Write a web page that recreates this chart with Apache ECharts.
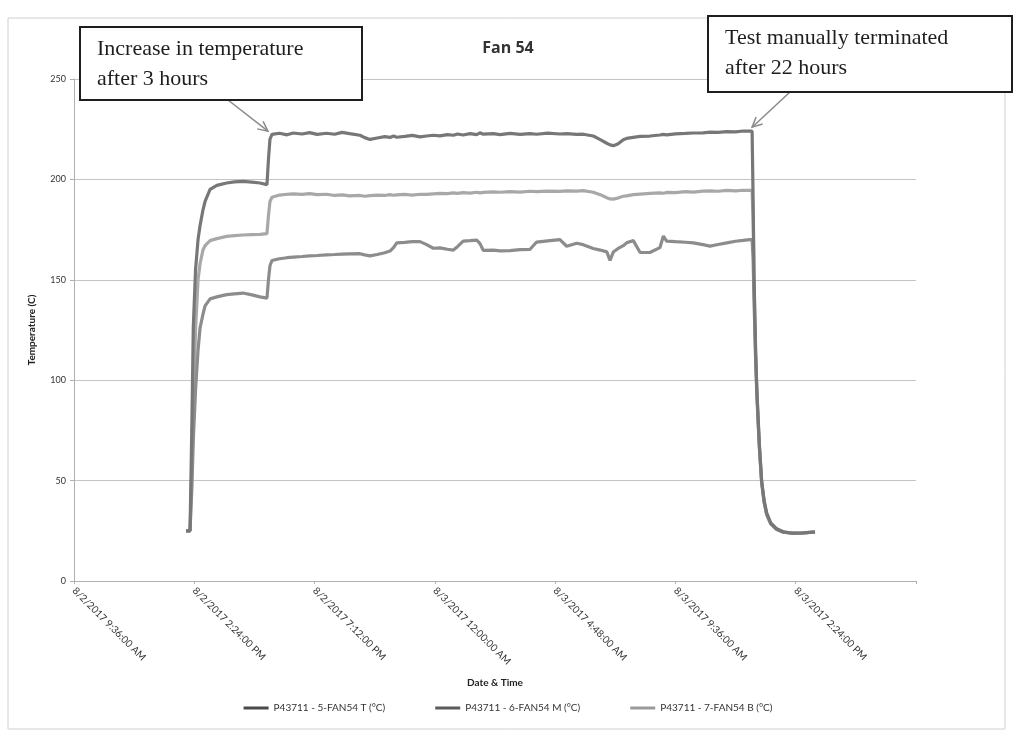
<!DOCTYPE html>
<html><head><meta charset="utf-8">
<script src="https://cdn.jsdelivr.net/npm/echarts@6/dist/echarts.min.js"></script>
<style>html,body{margin:0;padding:0;background:#fff}#c{width:1016px;height:734px}</style>
</head><body><div id="c"></div>
<script>
// ---- data (x = hours since 8/2/2017 00:00) ----
const chartTitle = 'Fan 54';
const yAxisTitle = 'Temperature (C)';
const xAxisTitle = 'Date & Time';
const seriesNames = ['P43711 - 5-FAN54 T (°C)', 'P43711 - 6-FAN54 M (°C)', 'P43711 - 7-FAN54 B (°C)'];
const xTickLabels = ['8/2/2017 9:36:00 AM', '8/2/2017 2:24:00 PM', '8/2/2017 7:12:00 PM',
  '8/3/2017 12:00:00 AM', '8/3/2017 4:48:00 AM', '8/3/2017 9:36:00 AM', '8/3/2017 2:24:00 PM'];
const yTicks = [0, 50, 100, 150, 200, 250];

const timeHours = [
  14.07, 14.23, 14.30, 14.36, 14.45, 14.55, 14.63, 14.75, 14.83, 15.03, 15.3, 15.69, 16.0, 16.34, 16.7, 17.02, 17.3, 17.36, 17.42,
  17.5, 17.8, 18.1, 18.35, 18.7, 19.0, 19.3, 19.68, 20.0, 20.3, 20.6, 21.01, 21.2, 21.41, 21.7, 22.0, 22.21, 22.35, 22.48, 22.8,
  23.1, 23.41, 23.67, 23.94, 24.2, 24.5, 24.74, 24.9, 25.13, 25.4, 25.67, 25.8, 25.93, 26.33, 26.6, 27.0, 27.4, 27.8, 28.06, 28.5,
  28.99, 29.26, 29.66, 29.92, 30.32, 30.6, 30.86, 30.99, 31.12, 31.3, 31.52, 31.65, 31.92, 32.19, 32.58, 32.98, 33.12, 33.25, 33.6,
  34.0, 34.31, 34.7, 34.98, 35.3, 35.65, 36.0, 36.3, 36.58,
  36.66, 36.70, 36.74, 36.80, 36.85, 36.95, 37.04, 37.14, 37.24, 37.4, 37.64, 37.9, 38.29, 38.7, 39.17
];
const tempT = [
  25, 25, 75, 126, 155, 170, 177, 185, 189, 195, 197, 198.2, 198.8, 199, 198.6, 198.2, 197.4, 210, 220,
  222.4, 223.0, 222.2, 223.1, 222.6, 223.3, 222.4, 223.0, 222.5, 223.4, 222.8, 222.0, 220.8, 219.9, 220.6, 221.3, 220.9, 221.6, 221.0, 221.4,
  221.9, 221.2, 221.6, 222.0, 221.7, 222.3, 222.0, 222.6, 222.1, 222.8, 222.3, 223.2, 222.5, 222.8, 222.3, 222.9, 222.4, 222.8, 222.5, 223.0,
  222.6, 222.8, 222.4, 222.5, 221.6, 219.8, 218.0, 217.2, 216.8, 217.6, 219.8, 220.4, 220.9, 221.4, 221.6, 222.1, 222.4, 222.2, 222.7,
  222.9, 223.1, 223.2, 223.5, 223.4, 223.8, 223.7, 224.1, 224.0,
  224, 190, 150, 115, 95, 68, 50, 40, 34, 29, 26, 24.5, 23.8, 24, 24.5
];
const tempM = [
  25, 25, 45, 70, 95, 115, 126, 133, 137, 140.5, 141.5, 142.6, 143, 143.4, 142.5, 141.5, 140.9, 150, 157,
  159.6, 160.5, 161.0, 161.3, 161.6, 161.9, 162.1, 162.4, 162.6, 162.8, 162.9, 163.0, 162.4, 161.9, 162.6, 163.5, 164.3, 166.0, 168.4, 168.6,
  169.0, 169.0, 167.5, 165.7, 165.9, 165.2, 164.8, 166.5, 169.3, 169.5, 169.8, 168.0, 164.7, 164.8, 164.4, 164.5, 165.0, 165.2, 168.8, 169.4,
  170.0, 166.7, 168.2, 167.5, 165.6, 164.8, 163.9, 159.7, 163.8, 165.5, 167.0, 168.4, 169.5, 163.6, 163.6, 166.0, 171.8, 169.3, 169.0,
  168.7, 168.4, 167.5, 166.8, 167.6, 168.4, 169.2, 169.6, 170.0,
  170, 160, 138, 110, 92, 66, 49, 39, 33, 28.5, 25.6, 24.3, 23.7, 23.9, 24.3
];
const tempB = [
  25, 25, 55, 85, 125, 150, 158, 165, 167, 169.5, 170.5, 171.6, 172, 172.3, 172.5, 172.6, 173, 182, 189,
  191.1, 192.2, 192.6, 192.8, 192.5, 192.9, 192.4, 192.6, 192.0, 192.3, 191.8, 192.0, 191.6, 191.9, 192.2, 192.0, 192.4, 192.1, 192.3, 192.5,
  192.2, 192.6, 192.5, 192.8, 193.0, 192.9, 193.3, 193.0, 193.4, 193.2, 193.6, 193.3, 193.5, 193.8, 193.6, 193.9, 193.7, 194.1, 193.9, 194.2,
  194.0, 194.3, 194.2, 194.4, 193.6, 192.4, 190.9, 190.3, 190.2, 190.7, 191.6, 191.8, 192.4, 192.7, 193.0, 193.3, 193.1, 193.5, 193.4,
  193.9, 193.7, 194.2, 194.3, 194.1, 194.5, 194.3, 194.6, 194.5,
  194.5, 180, 145, 113, 94, 67, 49.5, 39.5, 33.5, 28.8, 25.8, 24.4, 23.8, 24, 24.4
];
const annotationTexts = [['Increase in temperature', 'after 3 hours'], ['Test manually terminated', 'after 22 hours']];
const annotationTargets = [[17.34, 224], [36.66, 226]];

// ---- chart ----
const seriesColors = ['#777777', '#8c8c8c', '#a8a8a8'];
const legendColors = ['#4a4a4a', '#5c5c5c', '#9a9a9a'];
const seriesData = [tempT, tempM, tempB];
const chart = echarts.init(document.getElementById('c'), null, {renderer: 'canvas'});
const labelFont = 'Lato, "Open Sans", sans-serif';

chart.setOption({
  animation: false,
  backgroundColor: '#fff',
  title: {text: chartTitle, left: 'center', top: 35,
    textStyle: {fontFamily: '"Open Sans", sans-serif', fontSize: 16, fontWeight: 'bold', color: '#333'}},
  grid: {left: 74, right: 100, top: 79, bottom: 153, containLabel: false},
  legend: {
    bottom: 16, left: 'center', itemGap: 50, itemWidth: 25, itemHeight: 3, icon: 'rect',
    textStyle: {fontFamily: labelFont, fontSize: 10, color: '#333'},
    data: seriesNames.map((n, i) => ({name: n, itemStyle: {color: legendColors[i]}}))
  },
  xAxis: {
    type: 'value', min: 9.6, max: 43.2, interval: 4.8,
    name: xAxisTitle, nameLocation: 'middle', nameGap: 97,
    nameTextStyle: {fontFamily: labelFont, fontSize: 10, fontWeight: 'bold', color: '#222'},
    axisLine: {show: true, lineStyle: {color: '#b0b0b0', width: 1}},
    axisTick: {show: true, length: 3, lineStyle: {color: '#b0b0b0'}},
    splitLine: {show: false},
    axisLabel: {
      rotate: -45, margin: 8, fontFamily: labelFont, fontSize: 10, color: '#333',
      showMaxLabel: true,
      formatter: v => xTickLabels[Math.round((v - 9.6) / 4.8)] || ''
    }
  },
  yAxis: {
    type: 'value', min: 0, max: 250, interval: 50,
    name: yAxisTitle, nameLocation: 'middle', nameGap: 37, nameRotate: 90,
    nameTextStyle: {fontFamily: labelFont, fontSize: 10, fontWeight: 'bold', color: '#222'},
    axisLine: {show: true, lineStyle: {color: '#b0b0b0', width: 1}},
    axisTick: {show: true, length: 4, lineStyle: {color: '#b0b0b0'}},
    splitLine: {show: true, lineStyle: {color: '#c4c4c4', width: 1}},
    axisLabel: {margin: 8, fontFamily: labelFont, fontSize: 9, color: '#333',
      formatter: v => yTicks.indexOf(v) >= 0 ? String(v) : ''}
  },
  series: seriesNames.map((n, i) => ({
    name: n, type: 'line', showSymbol: false, symbol: 'none',
    z: 3 - i,
    color: seriesColors[i],
    lineStyle: {width: 3.2, color: seriesColors[i]},
    data: timeHours.map((h, k) => [h, seriesData[i][k]])
  }))
});

// ---- annotations (boxes are layout; arrow tips come from the axes) ----
const boxes = [
  {x: 80, y: 27, w: 282, h: 73, from: [228, 100]},
  {x: 708, y: 16, w: 304, h: 76, from: [790, 92]}
];
const g = [];
g.push({type: 'rect', silent: true, z: 0, shape: {x: 8, y: 18, width: 997, height: 711},
  style: {fill: null, stroke: '#d0d0d0', lineWidth: 1}});
boxes.forEach((b, i) => {
  const tip = chart.convertToPixel({gridIndex: 0}, annotationTargets[i]);
  const [fx, fy] = b.from;
  const ang = Math.atan2(tip[1] - fy, tip[0] - fx);
  const L = 11, a = 0.45;
  g.push({type: 'line', silent: true, z: 100, shape: {x1: fx, y1: fy, x2: tip[0], y2: tip[1]},
    style: {stroke: '#8a8a8a', lineWidth: 1.5}});
  g.push({type: 'polyline', silent: true, z: 100, shape: {points: [
      [tip[0] - L * Math.cos(ang - a), tip[1] - L * Math.sin(ang - a)], tip,
      [tip[0] - L * Math.cos(ang + a), tip[1] - L * Math.sin(ang + a)]]},
    style: {stroke: '#8a8a8a', lineWidth: 1.5, fill: null}});
  g.push({type: 'rect', silent: true, z: 101, shape: {x: b.x, y: b.y, width: b.w, height: b.h},
    style: {fill: '#fff', stroke: '#1e1e1e', lineWidth: 2}});
  g.push({type: 'text', silent: true, z: 102, x: b.x + 17, y: b.y + 7,
    style: {text: annotationTexts[i].join('\n'), font: '22px "Liberation Serif", "DejaVu Serif", serif',
      fill: '#1e1e1e', lineHeight: 30}});
});
chart.setOption({graphic: {elements: g}});
</script>
</body></html>
